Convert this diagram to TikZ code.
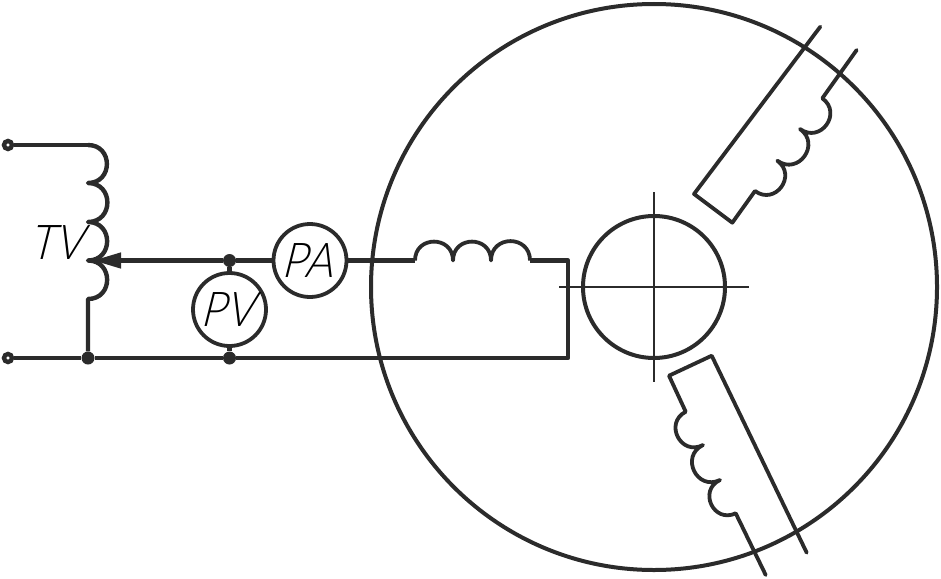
\documentclass[tikz,border=0pt]{standalone}
\usepackage{fontspec}
\usepackage{tikz}
\usetikzlibrary{arrows.meta}
\newfontfamily\lblfont[FakeSlant=0.25,FakeStretch=0.9]{Lato Light}
\definecolor{ink}{HTML}{2B2B2B}

\begin{document}
\begin{tikzpicture}[x=1pt, y=-1pt, color=ink,
  wire/.style={line width=4.4pt, line join=round},
  thin wire/.style={line width=3.8pt, line join=round},
  axis/.style={line width=1.6pt},
  coil/.style={bend right=90, looseness=1.7},
  rcoil/.style={bend left=90, looseness=1.7},
  meter/.style={circle, draw, line width=3.8pt, fill=white, minimum size=73pt, inner sep=0pt,
    font=\lblfont\fontsize{48}{48}\selectfont, text=black},
  joint/.style={circle, fill, minimum size=13pt, inner sep=0pt},
  terminal/.style={circle, draw, line width=4.4pt, fill=white, minimum size=8pt, inner sep=0pt}]
  \useasboundingbox (0,0) rectangle (941,578);

  \node[circle, draw, line width=4pt, minimum size=566pt, inner sep=0pt] (stator) at (654,287) {};
  \node[circle, draw, line width=4pt, minimum size=142pt, inner sep=0pt] (rotor) at (654,287) {};
  \draw[axis] (559,287) -- (749,287);
  \draw[axis] (654,192) -- (654,382);

  \node[terminal] (in1) at (8,145) {};
  \node[terminal] (in2) at (8,358) {};
  \node[joint] (j1) at (88,358) {};
  \node[joint] (j2) at (229.5,358) {};
  \node[joint] (j3) at (229.5,260.5) {};
  \coordinate (t0) at (88,145);
  \coordinate (t1) at (88,183);
  \coordinate (t2) at (88,222);
  \coordinate (t3) at (88,260.5);
  \coordinate (t4) at (88,299);
  \coordinate (tip) at (93,260.5);
  \node[font=\lblfont\fontsize{48}{48}\selectfont, text=black, inner sep=0pt] (TV) at (56,243) {TV};

  \draw[wire] (in1) -- (t0);
  \draw[wire] (t0) to[rcoil] (t1) to[rcoil] (t2) to[rcoil] (t3) to[rcoil] (t4) -- (j1);
  \draw[wire] (in2) -- (j1) -- (j2);
  \draw[wire, -{Triangle[length=28pt, width=15pt]}] (j3) -- (tip);

  \node[meter] (PA) at (310,260.5) {PA\kern6pt};
  \node[meter] (PV) at (229.5,309.5) {PV\kern4pt};
  \draw[wire] (j3) -- (PA);
  \draw[wire] (j3) -- (PV);
  \draw[wire] (PV) -- (j2);

  \coordinate (a0) at (415,260.5);
  \coordinate (a1) at (453,260.5);
  \coordinate (a2) at (491,260.5);
  \coordinate (a3) at (530,260.5);
  \coordinate (a4) at (568,260.5);
  \coordinate (a5) at (568,358);
  \draw[wire] (PA) -- (a0);
  \draw[thin wire] (a0) to[rcoil] (a1) to[rcoil] (a2) to[rcoil] (a3);
  \draw[wire] (a3) -- (a4) -- (a5) -- (j2);

  \coordinate (b0) at (820.3,26.7);
  \coordinate (b1) at (694,194);
  \coordinate (b2) at (732.3,222.7);
  \coordinate (b3) at (755,191);
  \coordinate (b4) at (777.3,160.7);
  \coordinate (b5) at (800,129);
  \coordinate (b6) at (822.3,98.3);
  \coordinate (b7) at (856.7,50);
  \draw[thin wire, line cap=round] (b0) -- (b1) -- (b2) -- (b3);
  \draw[thin wire] (b3) to[coil] (b4) to[coil] (b5) to[coil] (b6);
  \draw[thin wire, line cap=round] (b6) -- (b7);

  \coordinate (c0) at (806.7,552.7);
  \coordinate (c1) at (711.7,355.7);
  \coordinate (c2) at (669,375.7);
  \coordinate (c3) at (685.7,411.7);
  \coordinate (c4) at (703,445);
  \coordinate (c5) at (720,480);
  \coordinate (c6) at (735.7,513.3);
  \coordinate (c7) at (765.7,575);
  \draw[thin wire, line cap=round] (c0) -- (c1) -- (c2) -- (c3);
  \draw[thin wire] (c3) to[coil] (c4) to[coil] (c5) to[coil] (c6);
  \draw[thin wire, line cap=round] (c6) -- (c7);
\end{tikzpicture}
\end{document}
